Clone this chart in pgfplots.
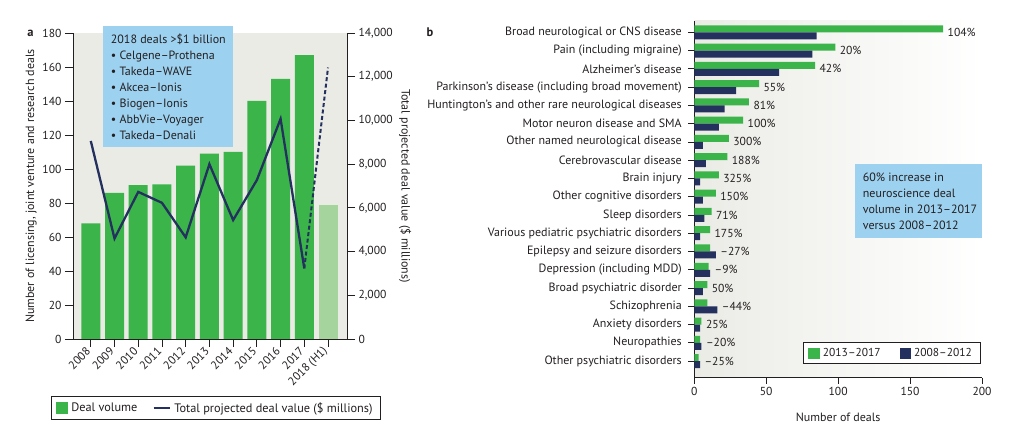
\documentclass[border=0pt]{standalone}
\usepackage{fontspec}
\setmainfont{PT Sans}
\usepackage{pgfplots}
\pgfplotsset{compat=1.18}

\definecolor{dealgreen}{HTML}{3BB54A}
\definecolor{lightgreen}{HTML}{A5D49D}
\definecolor{navy}{HTML}{24305E}
\definecolor{boxblue}{HTML}{9DD1F0}
\definecolor{bggrey}{HTML}{EBEBE6}
\definecolor{ink}{HTML}{231F20}

\pgfplotsset{
  every axis/.append style={
    font=\fontsize{12}{14}\selectfont,
    /pgf/number format/assume math mode=true,
    scale only axis,
    tick align=outside,
    axis line style={line width=0.8pt, color=ink, -},
    tick style={line width=0.8pt, color=ink},
    tick label style={font=\fontsize{11.6}{14}\selectfont},
    minor tick num=0,
  },
}

\begin{document}
\begin{tikzpicture}[every node/.style={text=ink}]
\path[use as bounding box] (0,0) rectangle (1020pt,436pt);

% ---- panel a: deal volume (bars, left scale)
\begin{axis}[
  at={(73pt,97pt)}, anchor=south west,
  width=274pt, height=306pt,
  xmin=-0.75, xmax=10.8, ymin=0, ymax=180,
  axis x line*=bottom, axis y line*=left,
  axis background/.style={fill=bggrey},
  ybar, bar width=19pt,
  xtick={0,...,10},
  xticklabels={2008,2009,2010,2011,2012,2013,2014,2015,2016,2017,2018 (H1)},
  x tick label style={rotate=45, anchor=east},
  ytick={0,20,...,180},
  major tick length=8pt,
  ylabel={Number of licensing, joint venture and research deals},
  ylabel style={at={(axis description cs:-0.153,0.5)}, anchor=center},
]
\addplot[fill=dealgreen, draw=none, bar shift=0pt] coordinates {
  (0,68) (1,86) (2,90.5) (3,91) (4,102) (5,109) (6,110) (7,140) (8,153) (9,167)};
\addplot[fill=lightgreen, draw=none, bar shift=0pt] coordinates {(10,79)};
\end{axis}

% ---- panel a: deal value (line, right scale)
\begin{axis}[
  at={(73pt,97pt)}, anchor=south west,
  width=274pt, height=306pt,
  xmin=-0.75, xmax=10.8, ymin=0, ymax=14000,
  axis x line=none, axis y line*=right,
  ytick={0,2000,...,14000},
  scaled y ticks=false,
  yticklabel style={/pgf/number format/1000 sep={,}},
  major tick length=8pt,
  ylabel={Total projected deal value (\$ millions)},
  ylabel style={at={(axis description cs:1.212,0.5)}, anchor=center, rotate=180},
  legend style={at={(0.522,-0.2255)}, anchor=center, legend columns=2,
    draw=ink, line width=0.8pt, inner xsep=5pt, inner ysep=2.5pt,
    font=\fontsize{12.3}{14}\selectfont,
    nodes={inner xsep=3pt, inner ysep=3pt},
    /tikz/every even column/.append style={column sep=12pt}},
  legend cell align=left,
]
\addlegendimage{legend image code/.code={\fill[dealgreen] (0pt,-5.5pt) rectangle (11pt,5.5pt);}}
\addlegendentry{Deal volume}
\addplot[navy, line width=2.3pt,
  legend image code/.code={\draw[navy, line width=2.3pt] (0pt,0pt) -- (16.6pt,0pt);}]
  coordinates {(0,9060) (1,4600) (2,6730) (3,6230) (4,4650) (5,8000)
               (6,5440) (7,7270) (8,10070) (9,3230)};
\addlegendentry{Total projected deal value (\$ millions)}
\addplot[navy, line width=2pt, dash pattern=on 4pt off 2.5pt, forget plot]
  coordinates {(9,3230) (10,12420)};
\end{axis}

% ---- panel b: deals by indication
\begin{axis}[
  at={(694.3pt,58.3pt)}, anchor=south west,
  width=287.7pt, height=356.7pt,
  xmin=0, xmax=200, ymin=-0.91, ymax=18.62,
  axis x line*=bottom, axis y line*=left,
  axis background/.style={left color=bggrey, right color=white},
  xtick={0,50,...,200}, ytick={0,...,18},
  yticklabels={Other psychiatric disorders, Neuropathies, Anxiety disorders,
    Schizophrenia, Broad psychiatric disorder, Depression (including MDD),
    Epilepsy and seizure disorders, Various pediatric psychiatric disorders,
    Sleep disorders, Other cognitive disorders, Brain injury,
    Cerebrovascular disease, Other named neurological disease,
    Motor neuron disease and SMA,
    Huntington’s and other rare neurological diseases,
    Parkinson’s disease (including broad movement), Alzheimer’s disease,
    Pain (including migraine), Broad neurological or CNS disease},
  major tick length=6pt,
  y tick label style={xshift=-3pt, font=\fontsize{12}{14}\selectfont},
  xlabel={Number of deals},
  xlabel style={at={(axis description cs:0.5,-0.110)}, anchor=center},
  legend style={at={(0.686,0.069)}, anchor=center, legend columns=2,
    draw=ink, line width=0.8pt, inner xsep=5pt, inner ysep=2.5pt,
    font=\fontsize{11.5}{14}\selectfont,
    nodes={inner xsep=3pt, inner ysep=3pt},
    /tikz/every even column/.append style={column sep=16pt}},
  legend cell align=left,
]
\addplot[xbar, bar width=7pt, bar shift=3.5pt, fill=dealgreen, draw=none,
  legend image code/.code={\fill[dealgreen] (0pt,-5.5pt) rectangle (11.5pt,5.5pt);}]
  coordinates {(173,18) (98,17) (84,16) (45,15) (38,14) (34,13) (24,12) (23,11)
    (17,10) (15,9) (12,8) (11,7) (11,6) (10,5) (9,4) (9,3) (5,2) (4,1) (3,0)};
\addlegendentry{2013–2017}
\addplot[xbar, bar width=7pt, bar shift=-3.5pt, fill=navy, draw=none,
  legend image code/.code={\fill[navy] (0pt,-5.5pt) rectangle (11.5pt,5.5pt);}]
  coordinates {(85,18) (82,17) (59,16) (29,15) (21,14) (17,13) (6,12) (8,11)
    (4,10) (6,9) (7,8) (4,7) (15,6) (11,5) (6,4) (16,3) (4,2) (5,1) (4,0)};
\addlegendentry{2008–2012}
\addplot[only marks, mark=*, mark size=0pt, mark options={draw=none, fill=none},
  forget plot, nodes near coords, point meta=explicit symbolic,
  every node near coord/.append style={anchor=west, xshift=1pt, text=ink,
    font=\fontsize{11.6}{14}\selectfont}]
  table[meta=label] {
x   y  label
173 18 104\%
98  17 20\%
84  16 42\%
45  15 55\%
38  14 81\%
34  13 100\%
24  12 300\%
23  11 188\%
17  10 325\%
15  9  150\%
12  8  71\%
11  7  175\%
15  6  –27\%
11  5  –9\%
9   4  50\%
16  3  –44\%
5   2  25\%
5   1  –20\%
4   0  –25\%
};
\end{axis}

% ---- panel letters and call-out boxes
\node[font=\fontsize{12.5}{14}\selectfont\bfseries] at (30.5pt,402.5pt) {a};
\node[font=\fontsize{12.5}{14}\selectfont\bfseries] at (430pt,404pt) {b};

\fill[boxblue] (103pt,289pt) rectangle (232.7pt,410pt);
\begin{scope}[every node/.style={anchor=base west, inner sep=0pt, text=ink,
    font=\fontsize{12}{14}\selectfont}]
\node at (110.7pt,392.7pt) {2018 deals >\$1 billion};
\node at (110.7pt,376.7pt) {• Celgene–Prothena};
\node at (110.7pt,360.7pt) {• Takeda–WAVE};
\node at (110.7pt,344.7pt) {• Akcea–Ionis};
\node at (110.7pt,328.7pt) {• Biogen–Ionis};
\node at (110.7pt,312.7pt) {• AbbVie–Voyager};
\node at (110.7pt,296.7pt) {• Takeda–Denali};
\end{scope}

\fill[boxblue] (855pt,198.3pt) rectangle (981.7pt,272pt);
\begin{scope}[every node/.style={anchor=base west, inner sep=0pt, text=ink,
    font=\fontsize{12}{14}\selectfont}]
\node at (862.7pt,254.7pt) {60\% increase in};
\node at (862.7pt,238.7pt) {neuroscience deal};
\node at (862.7pt,222.7pt) {volume in 2013–2017};
\node at (862.7pt,206.7pt) {versus 2008–2012};
\end{scope}
\end{tikzpicture}
\end{document}
